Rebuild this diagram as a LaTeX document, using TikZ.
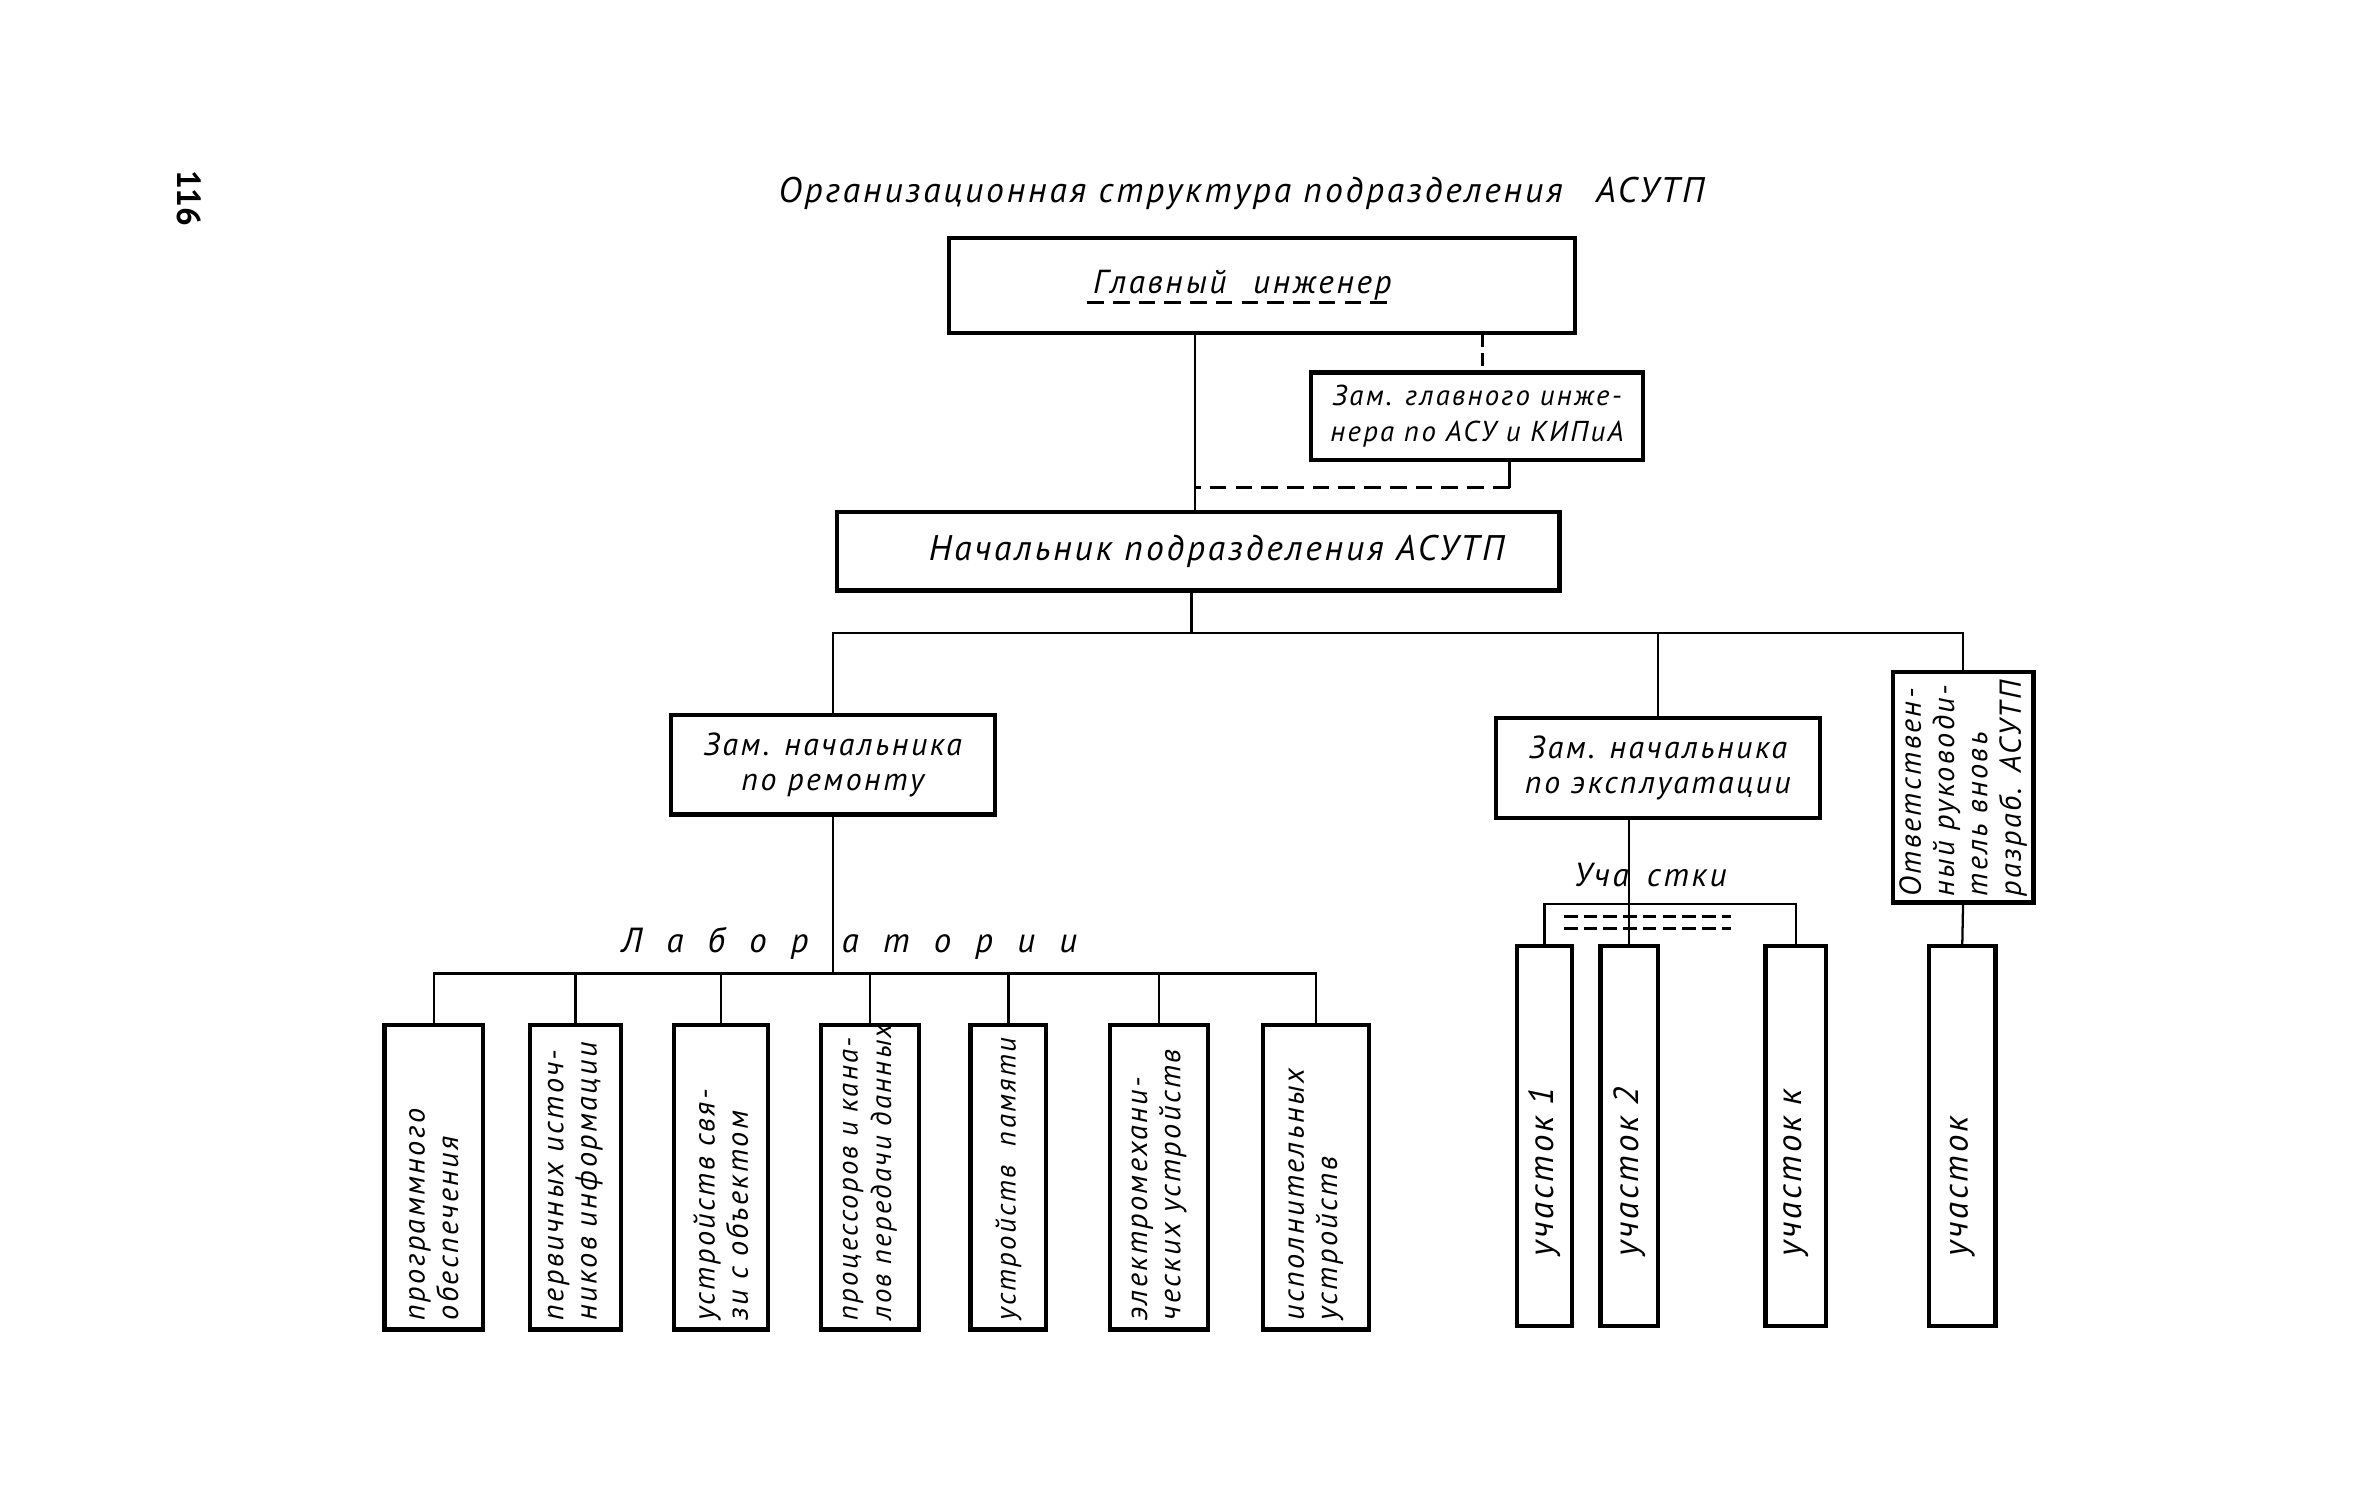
\documentclass[tikz,border=0pt]{standalone}
\usepackage{fontspec}
\setmainfont{PT Sans}[ItalicFeatures={LetterSpace=8}]
\newcommand\lsp{\hspace{16pt}}
\begin{document}
\begin{tikzpicture}[x=1pt,y=-1pt,
  box/.style={draw, line width=2.8pt, inner sep=0pt, align=center, font=\itshape\fontsize{21}{23}\selectfont},
  vbox/.style={box, rotate=90},
  lab/.style={vbox, minimum width=201, text width=189, align=left, font=\itshape\fontsize{20}{22}\selectfont},
  labn/.style={lab, font=\itshape\fontsize{19}{22}\selectfont\addfontfeature{LetterSpace=2}},
  uch/.style={vbox, minimum width=251, text width=159, align=left, font=\itshape\fontsize{23}{23}\selectfont},
  conn/.style={line width=1.5pt},
  dconn/.style={line width=2pt, dash pattern=on 11pt off 6pt},
  lbl/.style={inner sep=0pt, font=\itshape\fontsize{22}{22}\selectfont}
]
\useasboundingbox (0,0) rectangle (1560,990);

\node[font=\bfseries\fontsize{22}{22}\selectfont, rotate=-90, inner sep=0pt] (page) at (125,131) {116};
\node[lbl, font=\itshape\fontsize{23.5}{24}\selectfont] (title) at (820,128) {Организационная структура подразделения\hspace{14pt} АСУТП};

\node[box, minimum width=413, minimum height=63, font=\itshape\fontsize{22}{22}\selectfont] (G) at (833.5,188.5) {Главный\hspace{10pt} инженер\hspace*{26pt}};
\draw[dconn] (718,200) -- (922,200);

\node[box, minimum width=219, minimum height=58, font=\itshape\fontsize{19}{24}\selectfont] (Z) at (975.5,275) {Зам. главного инже-\\нера по АСУ и КИПиА};
\node[box, minimum width=477, minimum height=52, font=\itshape\fontsize{23.5}{24}\selectfont] (N) at (791.5,364) {\hspace*{24pt}Начальник подразделения АСУТП};

\node[box, minimum width=214, minimum height=66] (R) at (550,505) {Зам. начальника\\по ремонту};
\node[box, minimum width=214, minimum height=66] (E) at (1095,507) {Зам. начальника\\по эксплуатации};
\node[vbox, minimum width=152, minimum height=93, text width=144, align=left, font=\itshape\fontsize{20}{22}\selectfont] (O) at (1296.5,520) {Ответствен-\\ный руководи-\\тель вновь\\разраб. АСУТП};

% laboratories
\node[lab, minimum height=65] (L1) at (286.5,777.5) {программного\\обеспечения};
\node[lab, minimum height=60] (L2) at (380,777.5) {первичных источ-\\ников информации};
\node[lab, minimum height=62] (L3) at (476,777.5) {устройств свя-\\зи с объектом};
\node[labn, minimum height=65] (L4) at (574.5,777.5) {\mbox{процессоров и кана-}\\\mbox{лов передачи данных}};
\node[labn, minimum height=50] (L5) at (666,777.5) {\mbox{устройств\hspace{6pt} памяти}};
\node[lab, minimum height=65] (L6) at (765.5,777.5) {электромехани-\\ческих устройств};
\node[lab, minimum height=70] (L7) at (869,777.5) {исполнительных\\устройств};

% sections
\node[uch, minimum height=36] (U1) at (1020,750.5) {участок 1};
\node[uch, minimum height=38] (U2) at (1076,750.5) {участок 2};
\node[uch, minimum height=40] (Uk) at (1186,750.5) {участок к};
\node[uch, minimum height=44] (U) at (1296,750.5) {участок};

% top connectors
\coordinate (gn) at (789,0);
\draw[conn] (G.south -| gn) -- (N.north -| gn);
\coordinate (gz) at (979,0);
\draw[dconn, dash pattern=on 8pt off 4pt] (G.south -| gz) -- (Z.north -| gz);
\coordinate (zn) at (997,322);
\draw[conn] (Z.south -| zn) -- (zn);
\draw[dconn] (zn) -- (zn -| gn);

\coordinate (tb) at (787,418);
\draw[conn] (N.south -| tb) -- (tb);
\draw[conn] (R.north) -- (R.north |- tb) -- (O.east |- tb) -- (O.east);
\draw[conn] (E.north) -- (E.north |- tb);

% laboratories bus
\coordinate (lb) at (552,643);
\draw[conn] (R.south) -- (R.south |- lb);
\draw[conn] (L1.east) -- (L1.east |- lb) -- (L7.east |- lb) -- (L7.east);
\foreach \n in {L2,L3,L4,L5,L6} \draw[conn] (\n.east) -- (\n.east |- lb);
\node[lbl, font=\itshape\fontsize{23}{23}\selectfont] (labt) at (561,623) {Л\lsp а\lsp б\lsp о\lsp р\hspace{22pt}а\lsp т\lsp о\lsp р\lsp и\lsp и};

% sections bus
\coordinate (ub) at (0,597);
\draw[conn] (E.south -| U2.east) -- (U2.east);
\draw[conn] (U1.east) -- (U1.east |- ub) -- (Uk.east |- ub) -- (Uk.east);
\draw[dconn, dash pattern=on 9pt off 4pt] (1033,605) -- (1143,605);
\draw[dconn, dash pattern=on 9pt off 4pt] (1033,613) -- (1143,613);
\node[lbl] (ucht) at (1090,578) {Уча\hspace{12pt}стки};

\draw[conn] (O.west) -- (U.east);
\end{tikzpicture}
\end{document}
